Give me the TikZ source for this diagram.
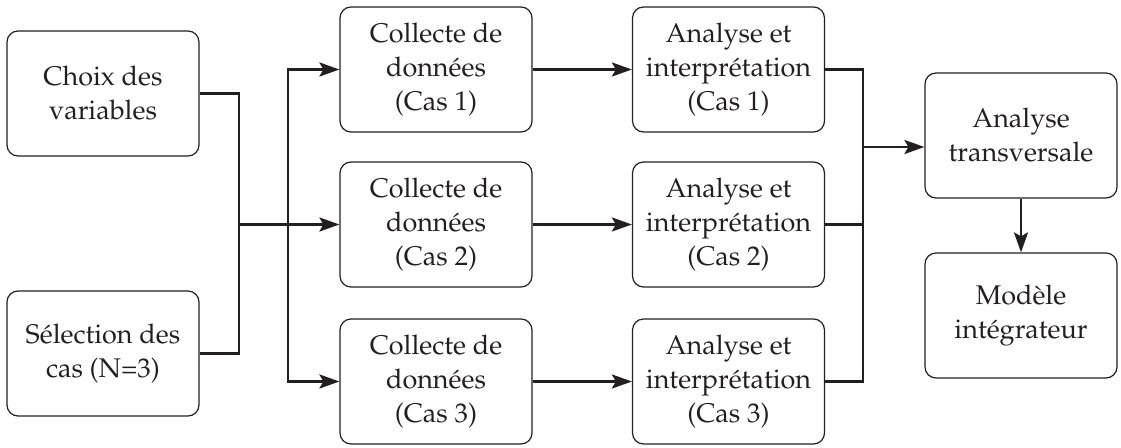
\documentclass[tikz,border=0pt]{standalone}
\usepackage[T1]{fontenc}
\usepackage{mathpazo}
\usetikzlibrary{arrows.meta}
\definecolor{ink}{HTML}{231F20}
\begin{document}
\begin{tikzpicture}[x=1pt,y=-1pt,
  box/.style={draw=ink, line width=1.2pt, rounded corners=11pt, minimum width=192pt, minimum height=125pt,
    inner sep=0pt, align=center, text=ink, font=\fontsize{27}{34}\selectfont},
  conn/.style={draw=ink, line width=2.6pt},
  arr/.style={conn, -{Stealth[length=20pt,width=14pt,inset=4pt]}}]
\useasboundingbox (0,0) rectangle (1121,447);
\node[box] (ch) at (103,93.5) {Choix des\\variables};
\node[box] (se) at (103,353.5) {S\'election des\\cas (N=3)};
\node[box] (c1) at (436,69.5) {Collecte de\\donn\'ees\\(Cas 1)};
\node[box] (c2) at (436,224.5) {Collecte de\\donn\'ees\\(Cas 2)};
\node[box] (c3) at (436,381.5) {Collecte de\\donn\'ees\\(Cas 3)};
\node[box] (a1) at (728.5,69.5) {Analyse et\\interpr\'etation\\(Cas 1)};
\node[box] (a2) at (728.5,224.5) {Analyse et\\interpr\'etation\\(Cas 2)};
\node[box] (a3) at (728.5,381.5) {Analyse et\\interpr\'etation\\(Cas 3)};
\node[box] (tr) at (1021,135.5) {Analyse\\transversale};
\node[box] (mo) at (1021,315.5) {Mod\`ele\\int\'egrateur};
\coordinate (j1) at (239,224.5);
\coordinate (b1) at (288,224.5);
\coordinate (j2) at (863,147);
% left joins
\draw[conn] (ch.east) -| (j1) |- (se.east);
\draw[arr] (j1) -- (c2.west);
\draw[arr] (b1) |- (c1.west);
\draw[arr] (b1) |- (c3.west);
% middle
\draw[arr] (c1.east) -- (a1.west);
\draw[arr] (c2.east) -- (a2.west);
\draw[arr] (c3.east) -- (a3.west);
% right joins
\draw[conn] (a1.east) -| (j2) |- (a3.east);
\draw[conn] (a2.east) -- (a2.east -| j2);
\draw[arr] (j2) -- (j2 -| tr.west);
\draw[arr] (tr.south) -- (mo.north);
\end{tikzpicture}
\end{document}
